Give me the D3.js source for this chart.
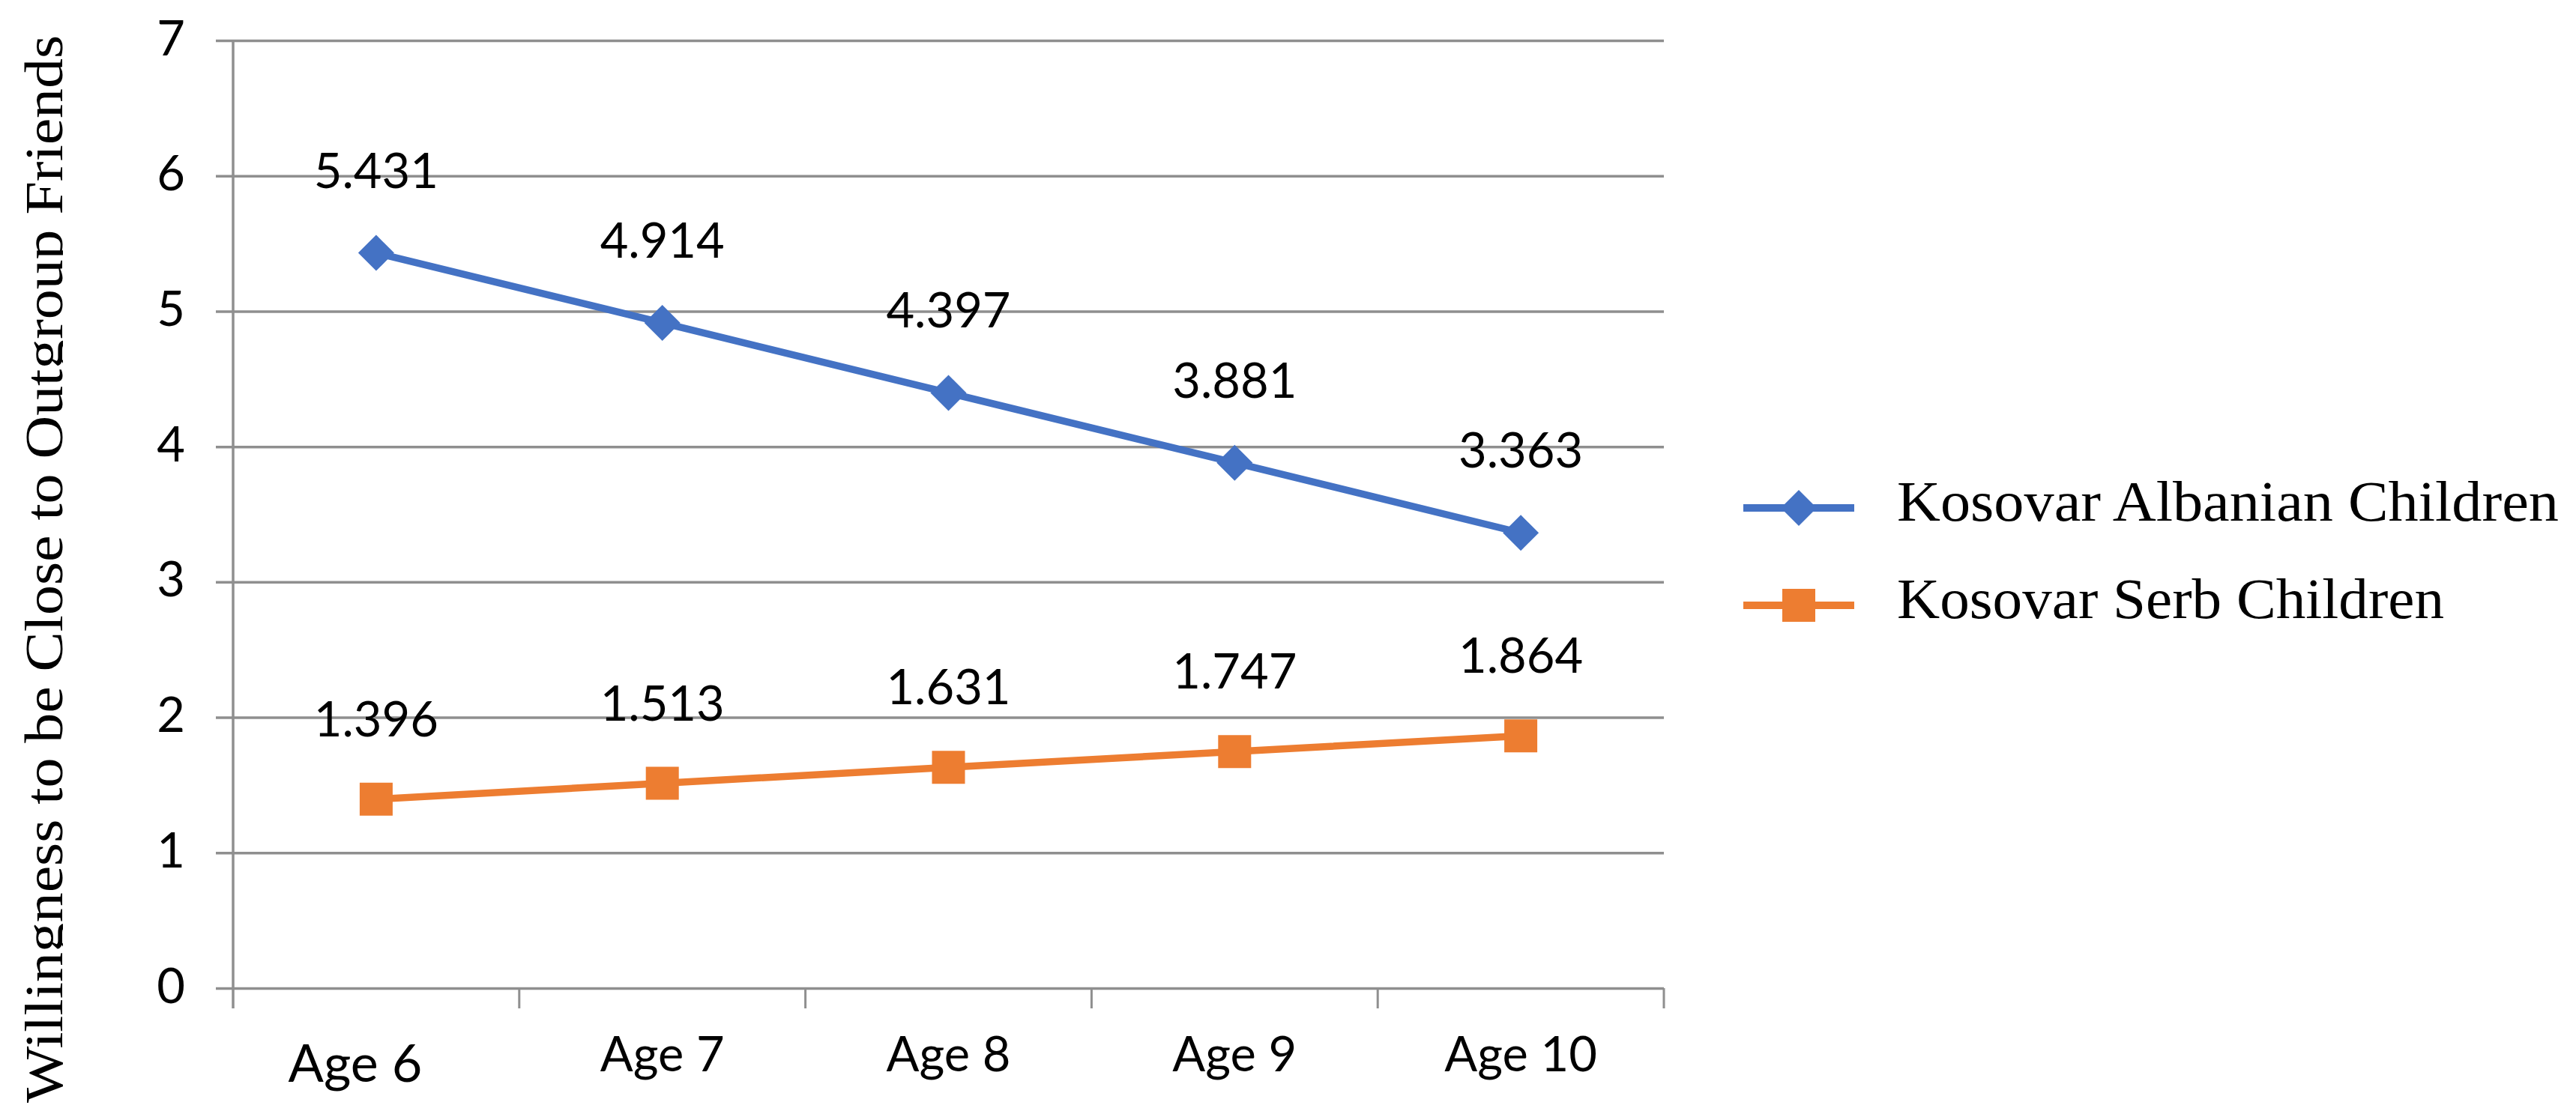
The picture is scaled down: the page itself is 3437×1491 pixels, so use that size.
<!DOCTYPE html>
<html>
<head>
<meta charset="utf-8">
<script src="https://cdn.jsdelivr.net/npm/d3@7"></script>
<style>
  html, body { margin: 0; padding: 0; background: #ffffff; }
  svg { display: block; }
</style>
</head>
<body>
<svg id="chart" width="3437" height="1491"></svg>
<script>
// ---- data ----
const categories = ["Age 6", "Age 7", "Age 8", "Age 9", "Age 10"];
const seriesNames = ["Kosovar Albanian Children", "Kosovar Serb Children"];
const albanianValues = [5.431, 4.914, 4.397, 3.881, 3.363];
const serbValues = [1.396, 1.513, 1.631, 1.747, 1.864];
const yTickValues = [0, 1, 2, 3, 4, 5, 6, 7];
const yAxisTitle = "Willingness to be Close to Outgroup Friends";

// ---- layout ----
const W = 3437, H = 1491;
const plot = { left: 311, right: 2220, top: 54, bottom: 1319 };
const gridColor = "#8f8f8f";
const colors = ["#4472C4", "#ED7D31"];
const numFont = "Lato, 'Open Sans', sans-serif";
const serifFont = "'Liberation Serif', 'DejaVu Serif', serif";

const svg = d3.select("#chart");

const x = d3.scaleBand().domain(categories).range([plot.left, plot.right]).paddingInner(0).paddingOuter(0);
const y = d3.scaleLinear().domain([0, 7]).range([plot.bottom, plot.top]);
const cx = c => x(c) + x.bandwidth() / 2;

// gridlines + y tick labels via axis
const tickOut = 23;
const yAxis = d3.axisLeft(y)
  .tickValues(yTickValues)
  .tickSize(-(plot.right - plot.left + tickOut))
  .tickSizeOuter(0)
  .tickPadding(41)
  .tickFormat(d3.format("d"));

const gy = svg.append("g")
  .attr("transform", `translate(${plot.left - tickOut},0)`)
  .call(yAxis);
gy.select(".domain").remove();
gy.selectAll(".tick line").attr("stroke", gridColor).attr("stroke-width", 3.5);
gy.selectAll(".tick text")
  .attr("fill", "#000")
  .attr("font-family", numFont)
  .attr("font-size", 65)
  .attr("dy", null)
  .attr("y", 19);

// vertical value axis line
svg.append("line")
  .attr("x1", plot.left).attr("x2", plot.left)
  .attr("y1", y(7)).attr("y2", plot.bottom + 27)
  .attr("stroke", gridColor).attr("stroke-width", 3.5);

// category tick marks at band boundaries
const boundaries = categories.map(c => x(c)).concat([x.range()[1]]);
svg.append("g").selectAll("line")
  .data(boundaries.slice(1))
  .join("line")
  .attr("x1", d => d).attr("x2", d => d)
  .attr("y1", plot.bottom).attr("y2", plot.bottom + 27)
  .attr("stroke", gridColor).attr("stroke-width", 3);

// category labels
const xAxis = d3.axisBottom(x).tickSize(0).tickPadding(0);
const gx = svg.append("g")
  .attr("transform", `translate(0,${plot.bottom})`)
  .call(xAxis);
gx.select(".domain").remove();
gx.selectAll(".tick text")
  .attr("fill", "#000")
  .attr("font-family", numFont)
  .attr("font-size", (d, i) => i === 0 ? 70 : 65)
  .attr("dy", null)
  .attr("x", (d, i) => i === 0 ? -28 : 0)
  .attr("y", (d, i) => i === 0 ? 125 : 111);

// series
const series = [
  { name: seriesNames[0], values: albanianValues, color: colors[0] },
  { name: seriesNames[1], values: serbValues, color: colors[1] }
];

const line = d3.line().x(d => cx(d.c)).y(d => y(d.v));

const diamondPath = "M0,-24L24,0L0,24L-24,0Z";
const squarePath = "M-22,-22H22V22H-22Z";
const markerPaths = [diamondPath, squarePath];

series.forEach((s, si) => {
  const pts = categories.map((c, i) => ({ c, v: s.values[i] }));
  svg.append("path")
    .datum(pts)
    .attr("fill", "none")
    .attr("stroke", s.color)
    .attr("stroke-width", 9.5)
    .attr("d", line);
  svg.append("g").selectAll("path")
    .data(pts)
    .join("path")
    .attr("transform", d => `translate(${cx(d.c)},${y(d.v)})`)
    .attr("d", markerPaths[si])
    .attr("fill", s.color);
  svg.append("g").selectAll("text")
    .data(pts)
    .join("text")
    .attr("x", d => cx(d.c))
    .attr("y", d => y(d.v) - (si === 0 ? 87 : 84))
    .attr("text-anchor", "middle")
    .attr("font-family", numFont)
    .attr("font-size", 65)
    .attr("fill", "#000")
    .text(d => d3.format(".3f")(d.v));
});

// y axis title: nested svg viewport clips the descenders, as in the original
const titleBox = svg.append("svg")
  .attr("x", 0).attr("y", 0)
  .attr("width", 84).attr("height", H)
  .attr("overflow", "hidden");
titleBox.append("text")
  .attr("transform", `translate(83,${(1472 + 47) / 2}) rotate(-90)`)
  .attr("text-anchor", "middle")
  .attr("font-family", serifFont)
  .attr("font-size", 71)
  .attr("fill", "#000")
  .attr("textLength", 1425)
  .attr("lengthAdjust", "spacingAndGlyphs")
  .text(yAxisTitle);

// legend
const legendY = [678, 808];
const legendTextLen = [883, 730];
const lg = svg.append("g");
series.forEach((s, si) => {
  const g = lg.append("g").attr("transform", `translate(0,${legendY[si]})`);
  g.append("line").attr("x1", 2326).attr("x2", 2474).attr("y1", 0).attr("y2", 0)
    .attr("stroke", s.color).attr("stroke-width", 10);
  g.append("path").attr("transform", "translate(2400,0)").attr("d", markerPaths[si]).attr("fill", s.color);
  g.append("text")
    .attr("x", 2531).attr("y", 17)
    .attr("font-family", serifFont)
    .attr("font-size", 77)
    .attr("fill", "#000")
    .attr("textLength", legendTextLen[si])
    .attr("lengthAdjust", "spacingAndGlyphs")
    .text(s.name);
});
</script>
</body>
</html>
